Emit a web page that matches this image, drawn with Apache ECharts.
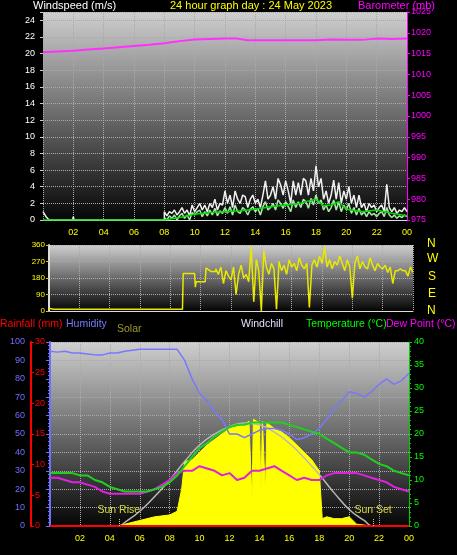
<!DOCTYPE html>
<html style="height: 100%">
<head>
    <meta charset="utf-8">
    <script src="https://cdn.jsdelivr.net/npm/echarts@6/dist/echarts.min.js"></script>
</head>
<body style="height: 100%; margin: 0; background: #000">
    <div id="main" style="width: 457px;height:555px;"></div>
    <script type="text/javascript">
        // hours of the day, ticks every 2h
        var hourLabels = ['', '02', '04', '06', '08', '10', '12', '14', '16', '18', '20', '22', '00'];

        // barometer (mb), [hour, value]
        var baro = [[0, 1015.3], [1, 1015.5], [2, 1015.7], [3, 1016.0], [4, 1016.2], [5, 1016.5], [6, 1016.8], [7, 1017.1], [8, 1017.5], [9, 1018.0], [10, 1018.4], [11, 1018.5], [12, 1018.6], [12.8, 1018.6], [13.5, 1018.2], [15, 1018.2], [16, 1018.2], [17, 1018.2], [18, 1018.2], [19, 1018.4], [20, 1018.3], [21, 1018.3], [22, 1018.6], [23, 1018.5], [24, 1018.6]];

        // wind before 08:00, [hour, value]
        var gustEarly = [[0, 1], [0.2, 0.4], [0.4, 0], [1.95, 0], [2, 0.4], [2.05, 0], [8, 0]];
        // gust and speed from 08:00 every 10 minutes
        var gust = [1, 0.5, 1, 0.8, 1.2, 0.6, 1, 1.5, 0.8, 1.2, 0.5, 1.8, 1, 1.5, 2, 1.2, 1.8, 1, 2, 1.5, 2.5, 1.2, 2, 1.8,
            3.5, 2, 3, 1.5, 3.5, 2.5, 2, 3, 2.8, 1.5, 2.5, 3, 2, 2.5, 1.5, 3, 4.7, 2.5, 3, 4, 2.5, 5, 4.2, 3,
            4.7, 3.5, 2, 4.7, 3, 4.5, 3, 5, 4.7, 3, 5, 3.5, 6.5, 4, 5, 2.5, 3.5, 2, 3, 4.8, 2.5, 4.5, 2, 3.5,
            2.5, 4, 2, 3, 1.5, 3, 1.5, 2, 1, 2, 1.5, 1.8, 1, 1.5, 1.8, 1, 4.3, 1.5, 1, 1.5, 0.8, 1.2, 1, 1.5, 1];
        var speed = [0.3, 0, 0.5, 0.2, 0.6, 0, 0.5, 0.8, 0.2, 0.6, 0, 0.9, 0.6, 1, 1.2, 0.4, 1, 0.5, 1.2, 0.6, 1.4, 0.5, 1.1, 0.8,
            1.5, 0.8, 1.6, 0.6, 1.8, 1, 0.8, 1.5, 1.2, 0.6, 1.3, 1.6, 1, 1.4, 0.6, 1.6, 2.2, 1.2, 1.5, 2, 1.2, 2.4, 2, 1.4,
            2.2, 1.6, 1, 2.4, 1.5, 2.2, 1.5, 2.5, 2.2, 1.4, 2.6, 1.8, 3, 2, 2.4, 1.2, 1.8, 1, 1.5, 2.4, 1.2, 2.2, 1, 1.8,
            1.2, 2, 0.8, 1.5, 0.6, 1.4, 0.6, 1, 0.4, 1, 0.6, 0.8, 0.4, 0.8, 1, 0.4, 1.5, 0.6, 0.3, 0.6, 0.2, 0.5, 0.3, 0.6, 0.4];
        var avgWind = [[0, 0], [8, 0], [8.1, 0.2], [9, 0.3], [10, 0.7], [11, 0.9], [12, 1.0], [13, 1.1], [14, 1.3], [15, 1.6], [16, 1.8], [17, 2.0], [17.5, 2.3], [18, 2.5], [18.5, 1.7], [19, 1.8], [19.5, 2.2], [20, 1.3], [21, 1.0], [22, 1.2], [23, 0.8], [24, 0.5]];

        // wind direction (deg)
        var dirEarly = [[0, 15], [0.3, 10], [8.8, 10], [8.85, 205], [9.6, 205], [9.65, 130], [9.7, 160], [10.3, 160], [10.35, 235], [10.7, 215], [11, 215]];
        var dirLate = [230, 200, 240, 150, 220, 190, 170, 240, 90, 200, 250, 180, 200, 160, 350, 50, 280, 220,
            0, 330, 240, 200, 260, 230, 10, 270, 220, 250, 200, 280, 240, 260, 220, 290, 250, 230,
            260, 20, 250, 280, 240, 300, 260, 350, 240, 280, 230, 270, 250, 300, 260, 220, 280, 240,
            70, 260, 300, 230, 270, 240, 230, 290, 250, 220, 260, 240, 230, 250, 210, 240, 150, 220,
            220, 230, 220, 220, 190, 240, 210];

        // every 30 minutes from 00:00
        var humidity = [95, 94.5, 95, 94, 94, 93.5, 93, 93, 94, 94, 95, 95.5, 96, 96, 96, 96, 96, 96, 90, 80, 72, 68, 62, 58,
            50, 50, 48, 50, 52, 53, 53, 52, 50, 47, 48, 50, 53, 58, 64, 68, 73, 72, 70, 73, 77, 80, 77, 79, 83];
        var temperature = [11.5, 11.5, 11.5, 11.5, 11, 11, 10, 9.5, 8.5, 8, 7.5, 7.5, 7.5, 7.5, 8, 8.5, 9.5, 11, 13, 15, 17, 18, 19.5, 20.5,
            21.5, 22, 22, 22.5, 22.5, 22.5, 22.5, 22.5, 22, 21.5, 21, 20.5, 20, 19, 18, 17, 16, 16, 15.5, 14.5, 13.5, 13, 12, 11.5, 11];
        var dewPoint = [10.5, 10.5, 10, 9.5, 9.5, 9, 8.5, 7.5, 7, 7, 7, 7, 7, 7.5, 8, 9, 10, 11.5, 12, 12, 13, 12.5, 12, 11,
            11.5, 10, 10.5, 12, 12, 12.5, 13, 12, 11, 10, 10.5, 10, 10, 11, 11.5, 11.5, 11.5, 11.5, 11, 10.5, 10, 9.5, 8.5, 8, 7.5];
        // solar on the humidity scale, [hour, value]
        var solar = [[0, 0], [4.5, 0], [5, 1], [6, 3], [7, 5], [8, 6], [8.5, 8], [8.8, 20], [9, 35], [9.5, 36], [10, 40], [10.5, 44], [11, 47], [11.5, 50], [12, 53], [12.5, 54], [13, 55], [13.3, 57],
            [13.5, 15], [13.6, 58], [14, 56], [14.1, 20], [14.2, 57], [14.4, 18], [14.5, 56], [15, 53], [15.5, 51], [16, 48], [16.5, 44], [17, 40], [17.5, 36], [18, 30], [18.2, 4], [18.5, 5], [19, 4], [19.5, 4], [20, 5], [20.5, 1], [21, 0.5], [21.5, 0], [24, 0]];
        var solarClear = [[0, 0], [4.6, 0], [5, 2], [6, 8], [7, 16], [8, 25], [9, 35], [10, 44], [11, 50], [12, 54], [13, 56], [14, 55], [15, 51], [16, 45], [17, 37], [18, 28], [19, 18], [20, 9], [21, 3], [21.6, 0], [24, 0]];
        var rainfall = [[0, 0], [24, 0]];

        function every10(arr, start) {
            return arr.map(function (v, i) { return [start + i / 6, v]; });
        }
        function every30(arr) {
            return arr.map(function (v, i) { return [i / 2, v]; });
        }

        var bg = {
            type: 'linear', x: 0, y: 0, x2: 0, y2: 1,
            colorStops: [{ offset: 0, color: '#cfcfcf' }, { offset: 1, color: '#050505' }]
        };
        var split = { show: true, lineStyle: { color: '#aaa', type: 'dotted', width: 1 } };
        var font = 'Liberation Sans';

        function xAxis(grid, showLabel) {
            return {
                type: 'value', gridIndex: grid, min: 0, max: 24, interval: 2,
                axisLine: { show: true, lineStyle: { color: '#ddd' } },
                axisTick: { show: false },
                axisLabel: {
                    show: showLabel, color: '#ffff00', fontSize: 9, fontFamily: font, margin: 8,
                    formatter: function (v) { return hourLabels[v / 2]; }
                },
                splitLine: split
            };
        }

        var myChart = echarts.init(document.getElementById('main'));
        myChart.setOption({
            backgroundColor: '#000',
            animation: false,
            textStyle: { fontFamily: font },
            grid: [
                { left: 43, top: 12, width: 364, height: 208, show: true, backgroundColor: bg, borderWidth: 0 },
                { left: 49, top: 245, width: 364, height: 66, show: true, backgroundColor: bg, borderWidth: 0 },
                { left: 50, top: 342, width: 359, height: 184, show: true, backgroundColor: bg, borderWidth: 0 }
            ],
            xAxis: [xAxis(0, true), xAxis(1, false), xAxis(2, true)],
            yAxis: [
                {
                    gridIndex: 0, min: 0, max: 25, interval: 2, position: 'left',
                    axisLine: { show: false }, axisTick: { show: true, length: 3, lineStyle: { color: '#ccc' } },
                    axisLabel: { color: '#fff', fontSize: 9, formatter: function (v) { return v > 24 ? '' : v; } },
                    splitLine: split
                },
                {
                    gridIndex: 0, min: 975, max: 1025, interval: 5, position: 'right',
                    axisLine: { show: true, lineStyle: { color: '#ff00ff' } }, axisTick: { show: true, length: 3 },
                    axisLabel: { color: '#ff00ff', fontSize: 9, margin: 4, formatter: function (v) { return String(v); } },
                    splitLine: { show: false }
                },
                {
                    gridIndex: 1, min: 0, max: 360, interval: 90, position: 'left',
                    axisLine: { show: true, lineStyle: { color: '#ddd', width: 2 } }, axisTick: { show: true, length: 3, lineStyle: { color: '#cc0' } },
                    axisLabel: { color: '#ffff00', fontSize: 8, margin: 4 }, splitLine: split
                },
                {
                    gridIndex: 2, min: 0, max: 100, interval: 10, offset: 21, position: 'left',
                    axisLine: { show: true, lineStyle: { color: '#7070ff', width: 2 } }, axisTick: { show: true, length: 4 },
                    minorTick: { show: true, splitNumber: 5, length: 2 },
                    axisLabel: { color: '#7070ff', fontSize: 9, margin: 4 }, splitLine: split
                },
                {
                    gridIndex: 2, min: 0, max: 30, interval: 5, offset: 19, position: 'left',
                    axisLine: { show: true, lineStyle: { color: '#ff0000', width: 2 } }, axisTick: { show: true, inside: true, length: 3 },
                    axisLabel: { color: '#ff0000', fontSize: 9, inside: true, margin: 4 }, splitLine: { show: false }
                },
                {
                    gridIndex: 2, min: 0, max: 40, interval: 5, position: 'right',
                    axisLine: { show: true, lineStyle: { color: '#00cc00' } }, axisTick: { show: true, length: 3 },
                    minorTick: { show: true, splitNumber: 5, length: 2 },
                    axisLabel: { color: '#00ff00', fontSize: 9, margin: 5 }, splitLine: { show: false }
                }
            ],
            series: [
                { type: 'line', xAxisIndex: 0, yAxisIndex: 1, data: baro, showSymbol: false, lineStyle: { color: '#ff30ff', width: 2 } },
                { type: 'line', xAxisIndex: 0, yAxisIndex: 0, data: gustEarly.concat(every10(gust, 8)), showSymbol: false, lineStyle: { color: '#f0f0f0', width: 1.5 } },
                { type: 'line', xAxisIndex: 0, yAxisIndex: 0, data: every10(speed, 8), showSymbol: false, lineStyle: { color: '#a8eca8', width: 1.5 } },
                { type: 'line', xAxisIndex: 0, yAxisIndex: 0, data: avgWind, showSymbol: false, lineStyle: { color: '#00dd00', width: 1.5 } },
                { type: 'line', xAxisIndex: 1, yAxisIndex: 2, data: dirEarly.concat(every10(dirLate, 11)), showSymbol: false, lineStyle: { color: '#e8e800', width: 1.5 } },
                {
                    type: 'line', xAxisIndex: 2, yAxisIndex: 3, data: solar, showSymbol: false,
                    lineStyle: { color: '#ffff00', width: 1 }, areaStyle: { color: '#ffff00', opacity: 1 }
                },
                {
                    type: 'line', xAxisIndex: 2, yAxisIndex: 3, data: solarClear, showSymbol: false, smooth: true,
                    lineStyle: { color: '#b8b8b8', width: 1.5 },
                    markLine: {
                        symbol: 'none', silent: true,
                        lineStyle: { color: '#d8d840', type: 'dotted', width: 1 },
                        label: { show: true, position: 'end', color: '#d8d840', fontSize: 10.5, distance: 3 },
                        data: [
                            [{ coord: [4.6, 0], name: 'Sun Rise' }, { coord: [4.6, 4] }],
                            [{ coord: [21.6, 0], name: 'Sun Set' }, { coord: [21.6, 4] }]
                        ],
                        emphasis: { disabled: true }
                    }
                },
                { type: 'line', xAxisIndex: 2, yAxisIndex: 3, data: every30(humidity), showSymbol: false, lineStyle: { color: '#7878ff', width: 1.5 } },
                { type: 'line', xAxisIndex: 2, yAxisIndex: 5, data: every30(dewPoint), showSymbol: false, lineStyle: { color: '#e020e0', width: 2 } },
                { type: 'line', xAxisIndex: 2, yAxisIndex: 5, data: every30(temperature), showSymbol: false, lineStyle: { color: '#20d020', width: 2 } },
                { type: 'line', xAxisIndex: 2, yAxisIndex: 4, data: rainfall, showSymbol: false, lineStyle: { color: '#ff0000', width: 2 } }
            ],
            graphic: [
                { type: 'text', left: 33, top: 0, style: { text: 'Windspeed (m/s)', fill: '#fff', fontSize: 11, fontFamily: font } },
                { type: 'text', left: 170, top: 0, style: { text: '24 hour graph day : 24 May 2023', fill: '#ffff00', fontSize: 11, fontFamily: font } },
                { type: 'text', right: 22, top: 0, style: { text: 'Barometer (mb)', fill: '#ff00ff', fontSize: 11, fontFamily: font } },
                { type: 'text', left: 427, top: 238, style: { text: 'N', fill: '#ffff00', fontSize: 12, fontFamily: font } },
                { type: 'text', left: 427, top: 253, style: { text: 'W', fill: '#ffff00', fontSize: 12, fontFamily: font } },
                { type: 'text', left: 428, top: 271, style: { text: 'S', fill: '#ffff00', fontSize: 12, fontFamily: font } },
                { type: 'text', left: 428, top: 288, style: { text: 'E', fill: '#ffff00', fontSize: 12, fontFamily: font } },
                { type: 'text', left: 427, top: 305, style: { text: 'N', fill: '#ffff00', fontSize: 12, fontFamily: font } },
                { type: 'text', left: 0, top: 319, style: { text: 'Rainfall (mm)', fill: '#ff0000', fontSize: 10.5, fontFamily: font } },
                { type: 'text', left: 66, top: 319, style: { text: 'Humidity', fill: '#7878ff', fontSize: 10.5, fontFamily: font } },
                { type: 'text', left: 117, top: 324, style: { text: 'Solar', fill: '#a09a30', fontSize: 10.5, fontFamily: font } },
                { type: 'text', left: 241, top: 319, style: { text: 'Windchill', fill: '#e0e0ff', fontSize: 10.5, fontFamily: font } },
                { type: 'text', left: 306, top: 319, style: { text: 'Temperature (°C)', fill: '#00ff00', fontSize: 10.5, fontFamily: font } },
                { type: 'text', left: 386, top: 319, style: { text: 'Dew Point (°C)', fill: '#ff00ff', fontSize: 10.5, fontFamily: font } }
            ]
        });
    </script>
</body>
</html>
